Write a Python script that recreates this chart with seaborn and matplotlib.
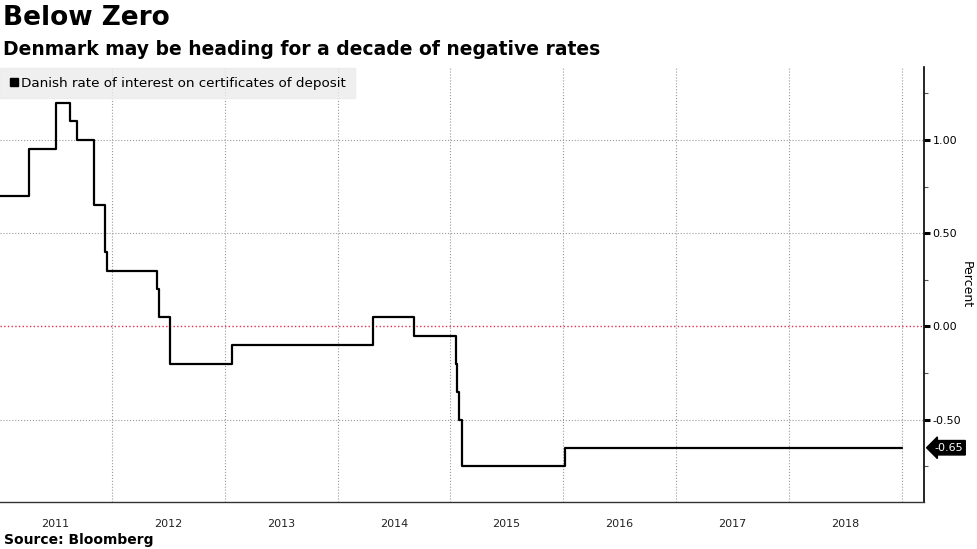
import matplotlib.pyplot as plt
import matplotlib.dates as mdates
import matplotlib.transforms as mtrans
import pandas as pd
import seaborn as sns

# step dates and rate (percent) from the reference
dates = ["2011-01-01", "2011-04-08", "2011-07-04", "2011-08-20", "2011-09-11",
         "2011-11-03", "2011-12-09", "2011-12-15", "2012-05-25", "2012-06-01",
         "2012-07-06", "2013-01-25", "2014-04-25", "2014-09-05", "2015-01-19",
         "2015-01-22", "2015-01-29", "2015-02-06", "2016-01-08", "2019-01-01"]
rates = [0.70, 0.95, 1.20, 1.10, 1.00,
         0.65, 0.40, 0.30, 0.20, 0.05,
         -0.20, -0.10, 0.05, -0.05, -0.20,
         -0.35, -0.50, -0.75, -0.65, -0.65]
years = [2011, 2012, 2013, 2014, 2015, 2016, 2017, 2018]
yticks = [1.00, 0.50, 0.00, -0.50]
last_label = "-0.65"

df = pd.DataFrame({"date": pd.to_datetime(dates), "rate": rates})

sns.set_style("white")
plt.rcParams['font.family'] = ['DejaVu Sans']
plt.rcParams['text.color'] = 'black'
plt.rcParams['axes.labelcolor'] = 'black'
plt.rcParams['xtick.color'] = '#222222'
plt.rcParams['ytick.color'] = 'black'

fig = plt.figure(figsize=(9.77, 5.49), dpi=100)
ax = fig.add_axes([0.0, 0.0856, 0.946, 0.7923])

sns.lineplot(data=df, x="date", y="rate", drawstyle="steps-post",
             color="black", linewidth=1.6, ax=ax, legend=False)

ax.set_xlim(pd.Timestamp("2011-01-04"), pd.Timestamp("2019-03-15"))
ax.set_ylim(-0.941, 1.391)

# spines
for s in ["left", "top"]:
    ax.spines[s].set_visible(False)
ax.spines["right"].set_color("black")
ax.spines["right"].set_linewidth(1.2)
ax.spines["bottom"].set_color("#333333")
ax.spines["bottom"].set_linewidth(1.0)

# y axis on right
ax.yaxis.tick_right()
ax.yaxis.set_label_position("right")
ax.set_yticks(yticks)
ax.set_yticklabels([f"{v:.2f}" for v in yticks])
ax.set_yticks([1.25, 0.75, 0.25, -0.25, -0.75], minor=True)
ax.tick_params(axis="y", which="major", direction="out", length=4, width=2.2,
               labelsize=8, pad=2, left=False, labelleft=False)
ax.tick_params(axis="y", which="minor", direction="out", length=3, width=0.8,
               color="#555555", left=False)
ax.set_ylabel("Percent", rotation=270, labelpad=8, fontsize=9)

# x axis: year boundaries, quarter ticks, year labels in the middle
ax.xaxis.set_major_locator(mdates.YearLocator())
ax.xaxis.set_minor_locator(mdates.MonthLocator(bymonth=[4, 7, 10]))
ax.xaxis.set_major_formatter(plt.NullFormatter())
ax.tick_params(axis="x", which="major", direction="out", length=27, width=0.8,
               color="#aaaaaa")
ax.tick_params(axis="x", which="minor", direction="out", length=4, width=0.8,
               color="#444444")
ax.set_xlabel("")
trans = mtrans.blended_transform_factory(ax.transData, ax.transAxes)
for yr in years:
    ax.text(mdates.date2num(pd.Timestamp(f"{yr}-07-02")), -0.04, str(yr),
            transform=trans, ha="center", va="top", fontsize=8, color="#222222")

# grid
ax.grid(False)
for yr in years[1:] + [2019]:
    ax.axvline(pd.Timestamp(f"{yr}-01-01"), color="#999999", linestyle=":",
               linewidth=0.8, zorder=0)
for v in [1.00, 0.50, -0.50]:
    ax.axhline(v, color="#999999", linestyle=":", linewidth=0.8, zorder=0)
ax.axhline(0.0, color="#e0304e", linestyle=":", linewidth=1.0, zorder=0)

# last value tag
ytrans = mtrans.blended_transform_factory(ax.transAxes, ax.transData)
ax.text(1.011, rates[-1], last_label, transform=ytrans, ha="left", va="center",
        fontsize=8, color="white",
        bbox=dict(boxstyle="larrow,pad=0.2", facecolor="black", edgecolor="black"))

# legend
leg = ax.legend(handles=[plt.Line2D([], [], marker="s", color="black",
                                    linestyle="none", markersize=6)],
                labels=["Danish rate of interest on certificates of deposit"],
                loc="upper left", bbox_to_anchor=(0.0, 0.998), frameon=True,
                fancybox=False, fontsize=9.7, handletextpad=0.1,
                handlelength=0.8, borderpad=0.65, borderaxespad=0)
leg.get_frame().set_facecolor("#ebebeb")
leg.get_frame().set_edgecolor("#ebebeb")

# titles and source
fig.text(0.003, 0.99, "Below Zero", fontsize=19, fontweight="bold", va="top")
fig.text(0.003, 0.928, "Denmark may be heading for a decade of negative rates",
         fontsize=13.5, fontweight="bold", va="top")
fig.text(0.004, 0.004, "Source: Bloomberg", fontsize=10, fontweight="bold",
         va="bottom")

fig.savefig("out.png", dpi=100)
